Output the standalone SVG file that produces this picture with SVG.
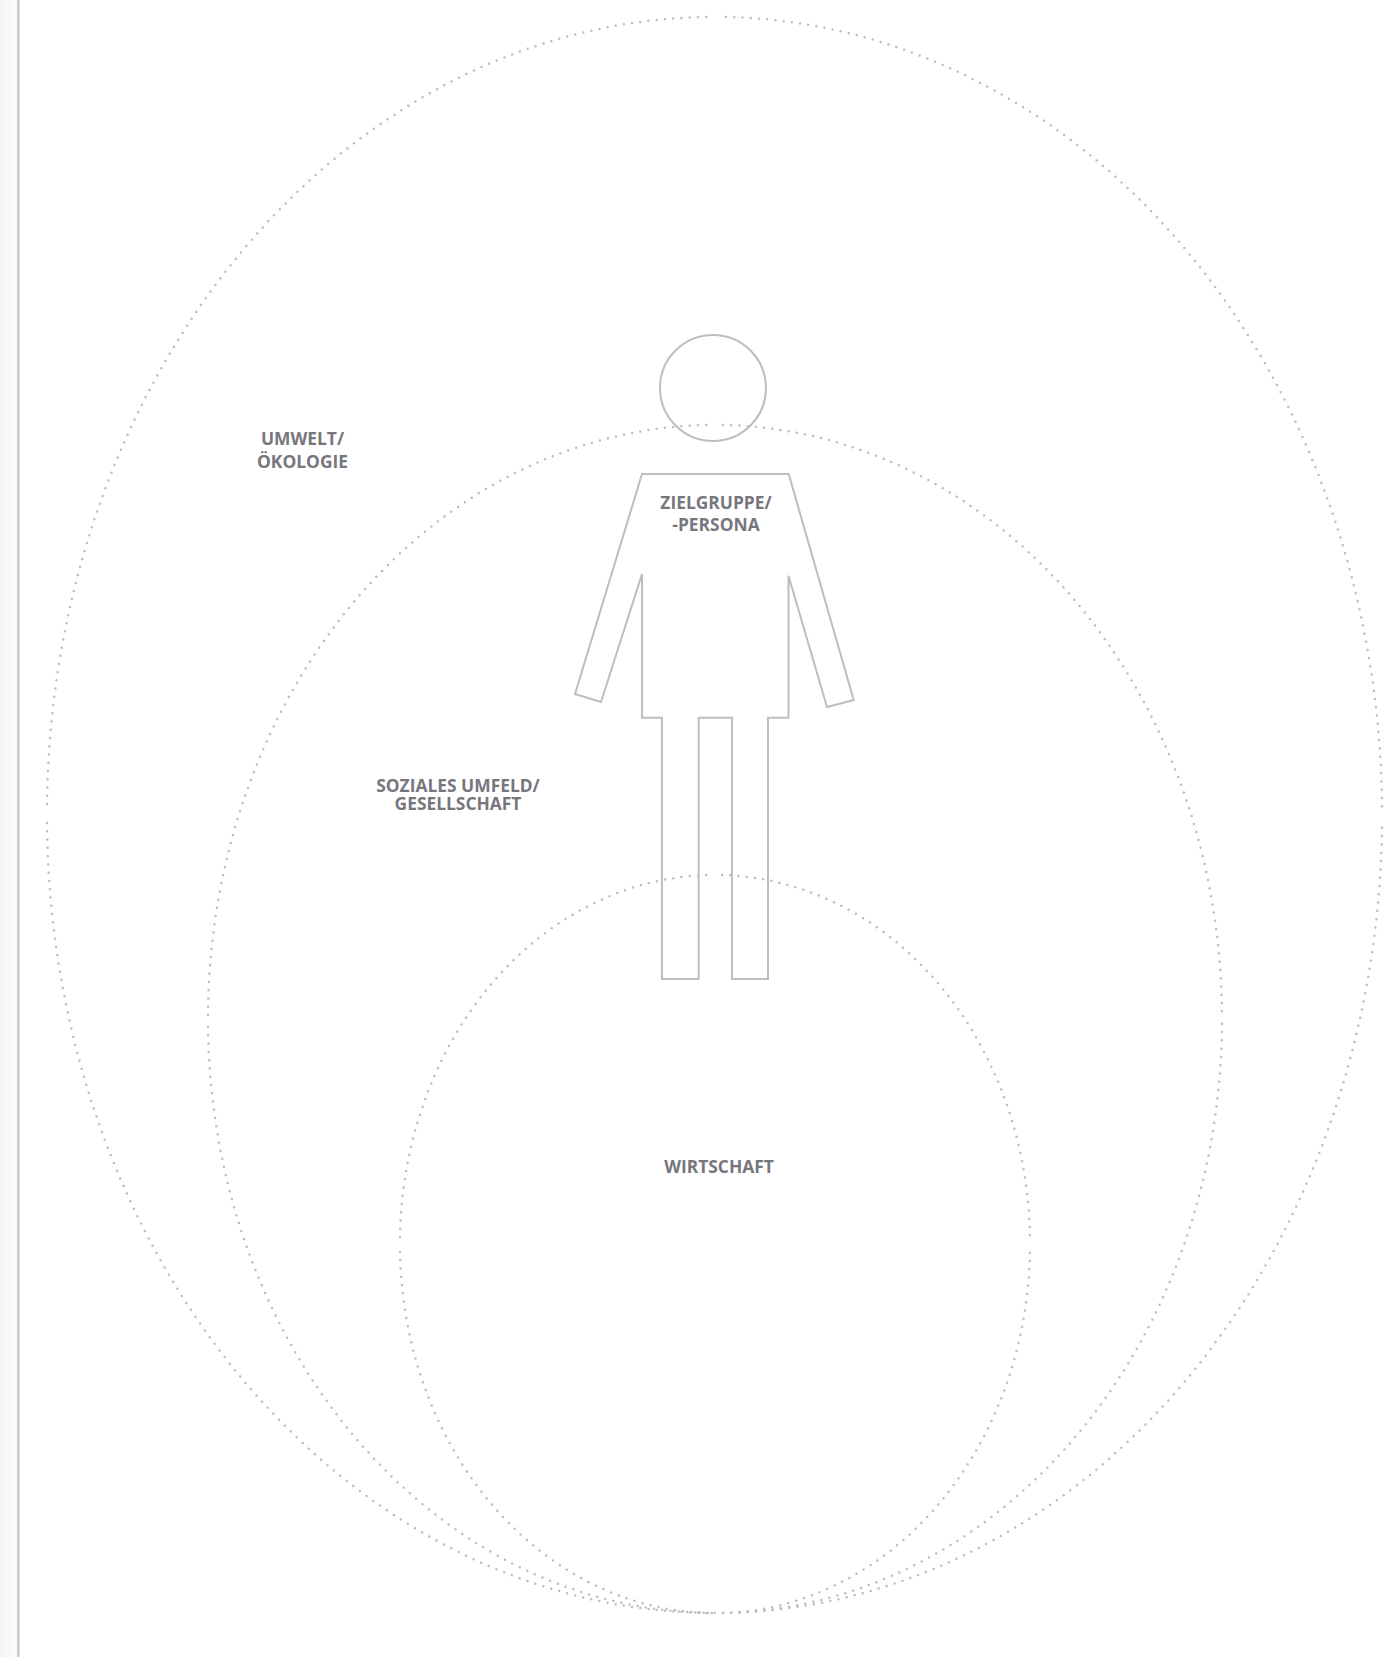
<svg xmlns="http://www.w3.org/2000/svg" width="1392" height="1657" viewBox="0 0 1392 1657">
<style>
.dot{fill:none;stroke:#bcbcc3;stroke-width:2.5;stroke-linecap:round;stroke-dasharray:0 8.3}
.n{stroke-dasharray:0 1}
.fig{fill:none;stroke:#bdbdc4;stroke-width:2}
.lbl{font-family:"Open Sans","Noto Sans",sans-serif;font-weight:700;font-size:17.4px;fill:#76767c;text-anchor:middle}
</style>
<defs><linearGradient id="side" x1="0" x2="1" y1="0" y2="0"><stop offset="0" stop-color="#f5f5f5"/><stop offset="1" stop-color="#fbfbfb"/></linearGradient></defs>
<rect width="1392" height="1657" fill="#fff"/>
<rect x="0" y="0" width="17" height="1657" fill="url(#side)"/>
<rect x="17" y="0" width="2.6" height="1657" fill="#c9c9d1"/>
<g id="umwelt">
<path class="dot n" pathLength="137.100" d="M47 804A667.5 798 0 0 1 707 17"/>
<path class="dot n" pathLength="137.100" d="M726 17A667.5 798 0 0 1 1382 807"/>
<path class="dot n" pathLength="136.100" d="M723 1613A667.5 798 0 0 0 1382 827"/>
<path class="dot" d="M47 823A667.5 798 0 0 0 715 1613"/>
<text class="lbl" x="302.500" y="445"><tspan x="302.500">UMWELT/</tspan><tspan x="302.500" dy="23">ÖKOLOGIE</tspan></text>
</g>
<g id="gesellschaft">
<path class="dot n" pathLength="103.100" d="M208 1015A507 594 0 0 1 707 425"/>
<path class="dot n" pathLength="103.100" d="M723 425A507 594 0 0 1 1222 1012"/>
<path class="dot n" pathLength="103.100" d="M723 1613A507 594 0 0 0 1222 1023"/>
<path class="dot" d="M208 1027A507 594 0 0 0 715 1613"/>
<text class="lbl" x="458" y="792"><tspan x="458">SOZIALES UMFELD/</tspan><tspan x="458" dy="18">GESELLSCHAFT</tspan></text>
</g>
<g id="wirtschaft">
<path class="dot n" pathLength="63.100" d="M400 1237A315 369 0 0 1 707 875"/>
<path class="dot n" pathLength="63.100" d="M722 875A315 369 0 0 1 1030 1236"/>
<path class="dot n" pathLength="63.100" d="M723 1613A315 369 0 0 0 1030 1252"/>
<path class="dot" d="M400 1252A315 369 0 0 0 715 1613"/>
<text class="lbl" x="719" y="1173">WIRTSCHAFT</text>
</g>
<g id="person">
<circle class="fig" cx="713" cy="388" r="53"/>
<path class="fig" d="M642 474H788.700L853.700 700L827 707L788.500 575.700V717.700H768V979H732V717.700H698.700V979H662V717.700H642V574L601 702L575 694Z"/>
<text class="lbl" x="716" y="509"><tspan x="716">ZIELGRUPPE/</tspan><tspan x="716" dy="22">-PERSONA</tspan></text>
</g>
<g id="connectors"></g>
</svg>
